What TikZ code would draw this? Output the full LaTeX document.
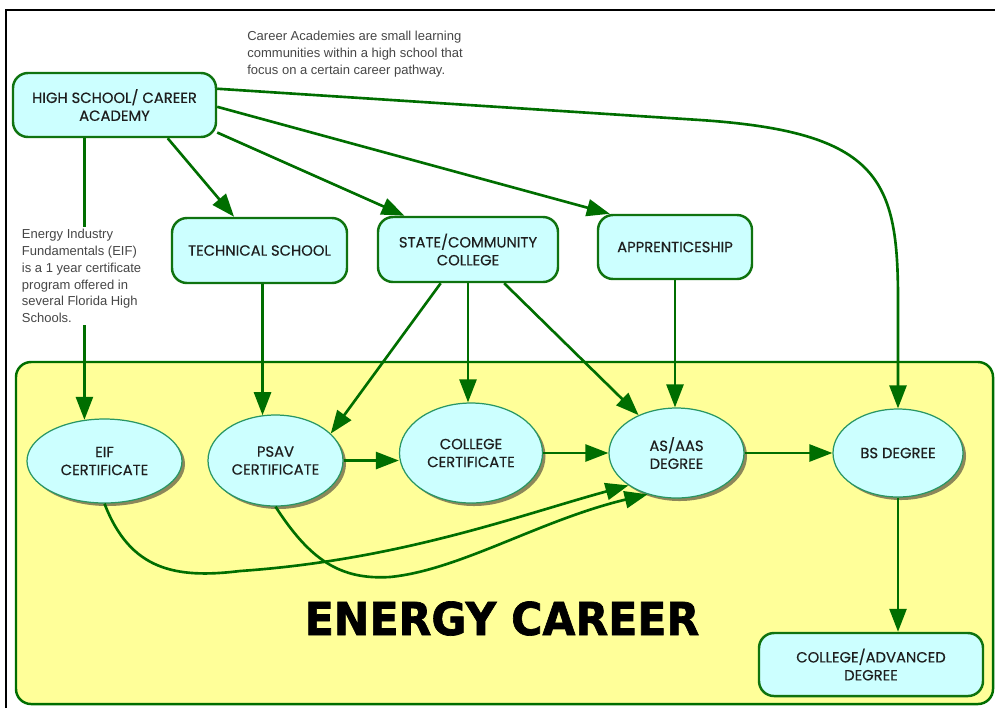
\documentclass[tikz,border=0pt]{standalone}
\usepackage{fontspec}
\usepackage{graphicx}
\usetikzlibrary{positioning, arrows.meta, shapes.geometric, shadows}
\newfontfamily\pathfamily{Poppins}[FakeBold=0.4]
\newfontfamily\notefamily{Liberation Sans}
\newfontfamily\bannerfamily{DejaVu Sans}[BoldFeatures={FakeBold=1.5}]
\newcommand{\pathfont}{\pathfamily\fontsize{8.4}{10.2}\selectfont}
\newcommand{\annfont}{\notefamily\fontsize{7.4}{9.5}\selectfont}
\definecolor{PathGreen}{RGB}{0,110,0}
\definecolor{BoxLine}{RGB}{15,115,15}
\definecolor{EllLine}{RGB}{40,150,100}
\definecolor{BoxCyan}{RGB}{204,255,255}
\definecolor{CareerYellow}{RGB}{255,255,153}
\definecolor{ShadowOlive}{RGB}{140,135,90}
\definecolor{BoxText}{RGB}{30,30,30}
\definecolor{NoteGray}{RGB}{70,70,70}
\tikzset{
  pathbox/.style={draw=BoxLine, line width=1.4pt, fill=BoxCyan, rounded corners=0.3cm,
    align=center, font=\pathfont, text=BoxText, inner sep=2pt},
  goalell/.style={ellipse, draw=EllLine, line width=0.7pt, fill=BoxCyan, align=center,
    font=\pathfont, text=BoxText, inner sep=0pt,
    drop shadow={shadow xshift=0.06cm, shadow yshift=-0.06cm, fill=ShadowOlive, opacity=1}},
  flow/.style={-{Triangle[length=0.46cm, width=0.34cm]}, line width=1.5pt, PathGreen},
  careerzone/.style={draw=PathGreen, line width=1.4pt, fill=CareerYellow, rounded corners=0.3cm},
  banner/.style={font=\bannerfamily\bfseries\fontsize{25.8}{30}\selectfont, inner sep=0pt},
  sidenote/.style={align=left, font=\annfont, text=NoteGray, inner sep=0pt},
}

\begin{document}
\begin{tikzpicture}[font=\pathfont]
    \useasboundingbox (0,0) rectangle (19.9,-14.16);
    % page frame, cut at right and bottom
    \draw[line width=1.2pt] (0.12,-14.16) -- (0.12,-0.2) -- (19.9,-0.2);
    % career area
    \draw[careerzone] (0.32,-7.24) rectangle (19.86,-14.08);
    \node[banner] (title) at (10.04,-12.37) {\scalebox{0.94}[1]{ENERGY CAREER}};

    % schools
    \node[pathbox, minimum width=4.06cm, minimum height=1.28cm] (hs) at (2.29,-2.10) {HIGH SCHOOL/ CAREER\\ACADEMY};
    \node[pathbox, minimum width=3.5cm, minimum height=1.3cm] (tech) at (5.19,-5.01) {TECHNICAL SCHOOL};
    \node[pathbox, minimum width=3.6cm, minimum height=1.3cm] (state) at (9.36,-4.99) {STATE/COMMUNITY\\COLLEGE};
    \node[pathbox, minimum width=3.08cm, minimum height=1.28cm] (appr) at (13.50,-4.94) {APPRENTICESHIP};

    % credentials
    \node[goalell, minimum width=3.1cm, minimum height=1.68cm] (eif) at (2.09,-9.22) {EIF\\CERTIFICATE};
    \node[goalell, minimum width=2.7cm, minimum height=1.82cm] (psav) at (5.51,-9.21) {PSAV\\CERTIFICATE};
    \node[goalell, minimum width=2.86cm, minimum height=2.0cm] (collcert) at (9.42,-9.06) {COLLEGE\\CERTIFICATE};
    \node[goalell, minimum width=2.7cm, minimum height=1.8cm] (asaas) at (13.53,-9.06) {AS/AAS\\DEGREE};
    \node[goalell, minimum width=2.6cm, minimum height=1.76cm] (bs) at (17.96,-9.06) {BS DEGREE};
    \node[pathbox, minimum width=4.48cm, minimum height=1.26cm] (colladv) at (17.42,-13.29) {COLLEGE/ADVANCED\\DEGREE};

    % pathways
    \draw[flow] (eif.116 |- hs.south) -- (eif.116);
    \draw[flow] (hs.-32) -- (tech.127);
    \draw[flow] (hs.-15) -- (state.152);
    \draw[flow] (hs.-1) -- (appr.153);
    \draw[flow] (hs.9) -- (14.00,-2.40) .. controls (17.60,-2.64) and (17.96,-3.60) .. (17.96,-6.00) -- (bs.north);
    \draw[flow] (psav.106 |- tech.south) -- (psav.106);
    \draw[flow] (state.231) -- (psav.26);
    \draw[flow] (state.south) -- (state.south |- collcert.north);
    \draw[flow] (state.-43) -- (asaas.135);
    \draw[flow] (appr.south) -- (appr.south |- asaas.north);
    \draw[flow] (psav.east) -- (collcert.west |- psav.east);
    \draw[flow] (collcert.east) -- (asaas.west);
    \draw[flow] (asaas.east) -- (bs.west);
    \draw[flow] (bs.south) -- (bs.south |- colladv.north);
    \draw[flow] (eif.south) .. controls (2.60,-11.40) and (3.50,-11.58) .. (4.80,-11.42)
      .. controls (8.00,-11.20) and (10.40,-10.30) .. (asaas.214);
    \draw[flow] (psav.south) .. controls (6.20,-11.20) and (6.80,-11.60) .. (7.80,-11.54)
      .. controls (9.20,-11.40) and (10.80,-10.40) .. (asaas.235);

    % notes
    \node[sidenote, anchor=north west] (acadnote) at (4.94,-0.62) {Career Academies are small learning\\communities within a high school that\\focus on a certain career pathway.};
    \node[sidenote, anchor=north west, fill=white, inner sep=1.5pt] (eifnote) at (0.38,-4.53) {Energy Industry\\Fundamentals (EIF)\\is a 1 year certificate\\program offered in\\several Florida High\\Schools.};
\end{tikzpicture}
\end{document}
